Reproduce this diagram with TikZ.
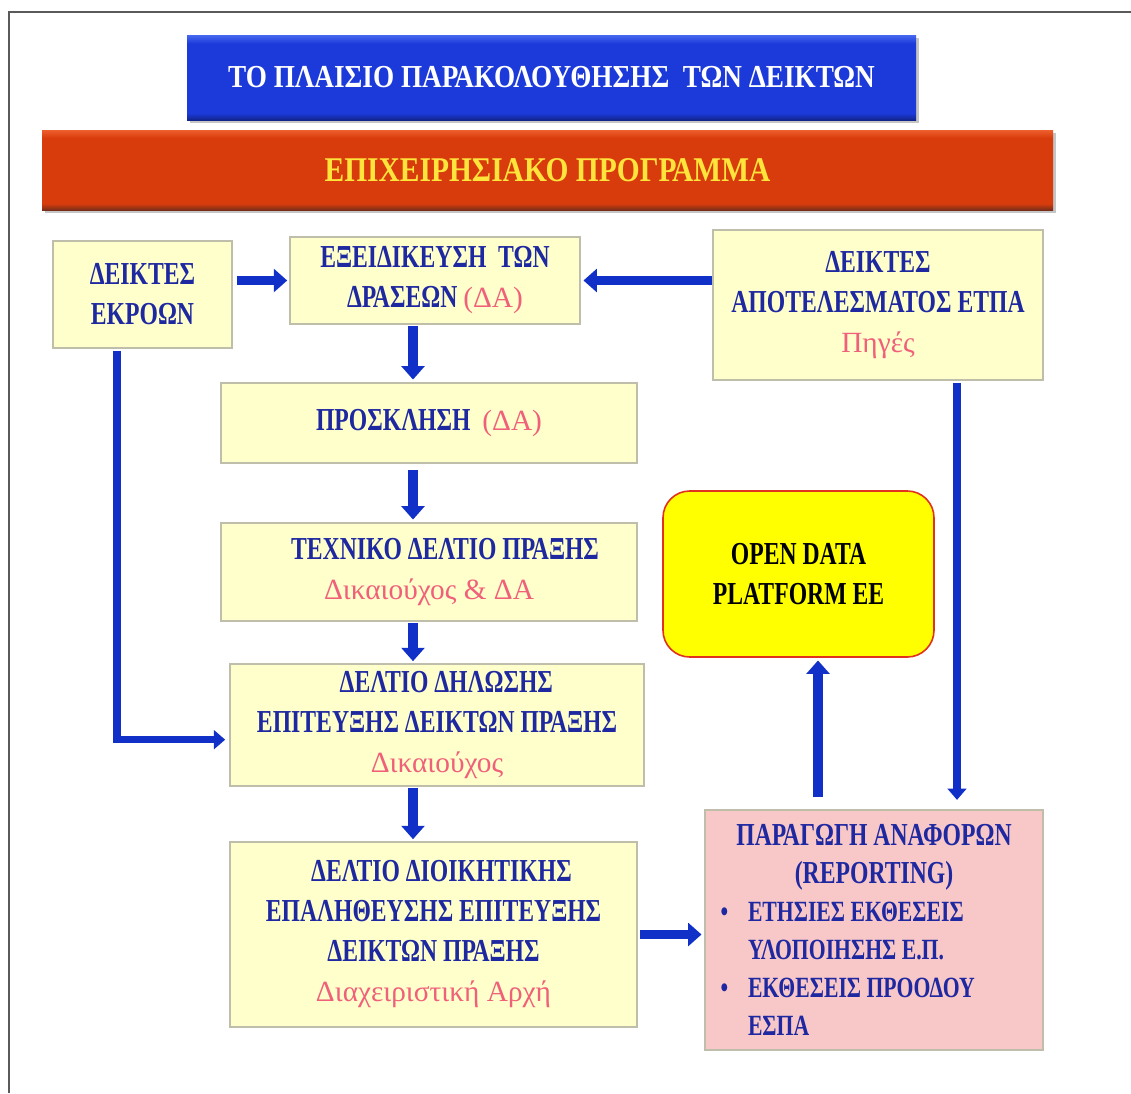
\documentclass[tikz,border=0pt]{standalone}
\usepackage{fontspec}
\setmainfont{Liberation Serif}[FakeStretch=0.74]
\newfontfamily\titfont{Liberation Serif}[FakeStretch=0.85]
\newfontfamily\pinkfont{Liberation Serif}
\usetikzlibrary{arrows.meta,shadows}
\definecolor{txtblue}{RGB}{30,40,160}
\definecolor{pinkt}{RGB}{240,96,122}
\definecolor{arrblue}{RGB}{16,48,200}
\definecolor{boxfill}{RGB}{255,255,204}
\definecolor{boxline}{RGB}{190,190,170}
\definecolor{parfill}{RGB}{248,200,200}
\definecolor{ttop}{RGB}{70,105,240}
\definecolor{tmid}{RGB}{28,58,218}
\definecolor{tbot}{RGB}{18,35,140}
\definecolor{otop}{RGB}{238,95,45}
\definecolor{omid}{RGB}{216,60,12}
\definecolor{obot}{RGB}{120,45,25}
\definecolor{otxt}{RGB}{255,228,60}
\definecolor{odfill}{RGB}{255,255,0}
\definecolor{odline}{RGB}{225,50,30}
\definecolor{frame}{RGB}{90,90,90}
\pgfdeclareverticalshading{blueshade}{100bp}{color(0bp)=(tbot); color(25bp)=(tbot); color(29bp)=(tmid); color(70bp)=(tmid); color(75bp)=(ttop); color(100bp)=(ttop)}
\pgfdeclareverticalshading{orangeshade}{100bp}{color(0bp)=(obot); color(25bp)=(obot); color(29bp)=(omid); color(70bp)=(omid); color(75bp)=(otop); color(100bp)=(otop)}
\newcommand\pk[1]{{\pinkfont\mdseries\fontsize{22}{30}\selectfont\color{pinkt}#1}}
\newcommand\bul{\makebox[25.5pt][l]{\hspace{5pt}\textbullet}}
\newcommand\ind{\hspace*{25.5pt}}
\begin{document}
\begin{tikzpicture}[x=0.75pt,y=-0.75pt,
  box/.style={draw=boxline, line width=1.2pt, fill=boxfill, text=txtblue,
    font=\bfseries\fontsize{24}{30}\selectfont, align=center, inner sep=0pt},
  titlebox/.style={inner sep=0pt, font=\titfont\bfseries\fontsize{24}{28}\selectfont,
    drop shadow={shadow xshift=2pt,shadow yshift=-2pt,fill=black!45}},
  flow/.style={draw=arrblue, line width=6.8pt, -{Triangle[width=17pt,length=10pt]}},
  flowthin/.style={draw=arrblue, line width=5.5pt, -{Triangle[width=14pt,length=8.5pt]}}]
\useasboundingbox (0,0) rectangle (1131,1093);
\fill[white] (0,0) rectangle (1131,1093);
\draw[frame, line width=1.3pt] (9,1093) -- (9,12) -- (1131,12);

% titles
\node[titlebox, minimum width=546.75pt, minimum height=63.75pt,
  shading=blueshade, text=white] (title) at (551.5,77.5)
  {ΤΟ ΠΛΑΙΣΙΟ ΠΑΡΑΚΟΛΟΥΘΗΣΗΣ \ ΤΩΝ ΔΕΙΚΤΩΝ};
\node[titlebox, minimum width=758.25pt, minimum height=60pt,
  shading=orangeshade, text=otxt,
  font=\titfont\bfseries\fontsize{26}{30}\selectfont] (prog) at (547.5,170)
  {ΕΠΙΧΕΙΡΗΣΙΑΚΟ ΠΡΟΓΡΑΜΜΑ};

% boxes
\node[box, minimum width=134.25pt, minimum height=80.25pt] (ekr) at (142.5,294.5)
  {ΔΕΙΚΤΕΣ\\ΕΚΡΟΩΝ};
\node[box, minimum width=217.5pt, minimum height=65.25pt] (exe) at (435,280.5)
  {ΕΞΕΙΔΙΚΕΥΣΗ \ ΤΩΝ\\ΔΡΑΣΕΩΝ \pk{(ΔΑ)}};
\node[box, minimum width=247.5pt, minimum height=112.5pt] (apo) at (878,305)
  {ΔΕΙΚΤΕΣ\\ΑΠΟΤΕΛΕΣΜΑΤΟΣ ΕΤΠΑ\\\pk{Πηγές}};
\node[box, minimum width=312pt, minimum height=60pt] (pro) at (429,423)
  {ΠΡΟΣΚΛΗΣΗ \ \pk{(ΔΑ)}};
\node[box, minimum width=312pt, minimum height=73.5pt] (tex) at (429,572)
  {\hspace*{24pt}ΤΕΧΝΙΚΟ ΔΕΛΤΙΟ ΠΡΑΞΗΣ\\\pk{Δικαιούχος \& ΔΑ}};
\node[box, minimum width=310.5pt, minimum height=91.5pt] (dil) at (437,725)
  {\hspace*{14pt}ΔΕΛΤΙΟ ΔΗΛΩΣΗΣ\\ΕΠΙΤΕΥΞΗΣ ΔΕΙΚΤΩΝ ΠΡΑΞΗΣ\\\pk{Δικαιούχος}};
\node[box, minimum width=305.25pt, minimum height=138.75pt] (dio) at (433.5,934.5)
  {\hspace*{12pt}ΔΕΛΤΙΟ ΔΙΟΙΚΗΤΙΚΗΣ\\ΕΠΑΛΗΘΕΥΣΗΣ ΕΠΙΤΕΥΞΗΣ\\ΔΕΙΚΤΩΝ ΠΡΑΞΗΣ\\\pk{Διαχειριστική Αρχή}};
\node[box, fill=odfill, draw=odline, rounded corners=20pt, text=black,
  minimum width=203.25pt, minimum height=124.5pt] (open) at (798.5,574)
  {OPEN DATA\\PLATFORM EE};
\node[box, fill=parfill, align=left, font=\bfseries\fontsize{22}{28.5}\selectfont,
  minimum width=253.5pt, minimum height=180pt] (par) at (874,930)
  {\makebox[240pt][c]{\fontsize{24}{28.5}\selectfont ΠΑΡΑΓΩΓΗ ΑΝΑΦΟΡΩΝ}\\
   \makebox[240pt][c]{\fontsize{24}{28.5}\selectfont (REPORTING)}\\
   \bul ΕΤΗΣΙΕΣ ΕΚΘΕΣΕΙΣ\\
   \ind ΥΛΟΠΟΙΗΣΗΣ Ε.Π.\\
   \bul ΕΚΘΕΣΕΙΣ ΠΡΟΟΔΟΥ\\
   \ind ΕΣΠΑ};

% spines
\coordinate (spine) at (413,0);
\coordinate (lspine) at (117,0);
\coordinate (rspine) at (957,0);
\coordinate (ospine) at (818,0);

% connectors
\draw[flow, shorten <=3pt, shorten >=1.5pt] (ekr.east |- exe.west) -- (exe.west);
\draw[flow, shorten >=2pt] (apo.west |- exe.east) -- (exe.east);
\draw[flow, shorten <=1pt, shorten >=2pt] (exe.south -| spine) -- (pro.north -| spine);
\draw[flow, shorten <=5pt, shorten >=2pt] (pro.south -| spine) -- (tex.north -| spine);
\draw[flow, shorten <=1pt, shorten >=1.5pt] (tex.south -| spine) -- (dil.north -| spine);
\draw[flow, shorten <=1pt, shorten >=1.5pt] (dil.south -| spine) -- (dio.north -| spine);
\draw[flowthin, shorten <=1.5pt, shorten >=3pt] (ekr.south -| lspine) |- ([yshift=-11pt]dil.west);
\draw[flow, shorten <=2pt, shorten >=2pt] (dio.east) -- (dio.east -| par.west);
\draw[flowthin, shorten <=1.5pt, shorten >=7pt] (apo.south -| rspine) -- (par.north -| rspine);
\draw[flow, shorten <=9pt, shorten >=2pt] (par.north -| ospine) -- (open.south -| ospine);
\end{tikzpicture}
\end{document}
